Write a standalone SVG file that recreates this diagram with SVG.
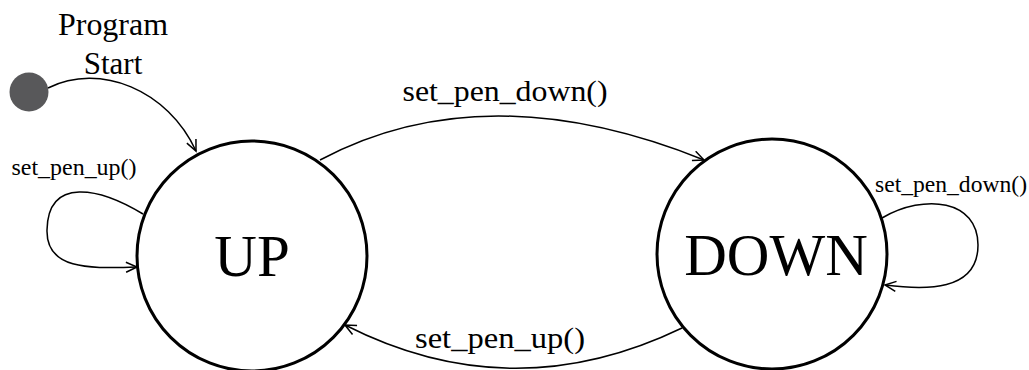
<svg xmlns="http://www.w3.org/2000/svg" width="1029" height="370" viewBox="0 0 1029 370">
<style>
.state{fill:#fff;stroke:#000;stroke-width:3}
.edge{fill:none;stroke:#000;stroke-width:1.5}
.big{font-family:"Liberation Serif","Times New Roman",serif;font-size:59px;fill:#000}
.lbl{font-family:"Liberation Serif","Times New Roman",serif;fill:#000}
</style>
<defs>
<marker id="arr" markerUnits="userSpaceOnUse" markerWidth="14" markerHeight="12" refX="12" refY="6" orient="auto">
<path d="M1,1 L12,6 L1,11" fill="none" stroke="#000" stroke-width="1.5"/>
</marker>
</defs>
<rect width="1029" height="370" fill="#fff"/>
<g id="connectors">
<path class="edge" d="M48 88 C100 62, 168 90, 196 151" marker-end="url(#arr)"/>
<path class="edge" d="M320 160 Q485 72 704 160" marker-end="url(#arr)"/>
<path class="edge" d="M682 328 Q512 410 345 325" marker-end="url(#arr)"/>
<path class="edge" d="M143 214 C100 188, 48 176, 47 230 C46 272, 95 268, 137 267" marker-end="url(#arr)"/>
<path class="edge" d="M882 218 C925 193, 978 200, 978 245 C978 292, 925 290, 885 285" marker-end="url(#arr)"/>
</g>
<g id="start">
<circle cx="29" cy="92" r="19.5" fill="#58585a"/>
<text class="lbl" x="113" y="35" font-size="31" text-anchor="middle" textLength="110" lengthAdjust="spacingAndGlyphs">Program</text>
<text class="lbl" x="113" y="74" font-size="31" text-anchor="middle">Start</text>
</g>
<g id="up">
<circle class="state" cx="252" cy="256" r="115"/>
<text class="big" x="252" y="276" text-anchor="middle">UP</text>
</g>
<g id="down">
<circle class="state" cx="772" cy="254" r="115"/>
<text class="big" x="776" y="275" text-anchor="middle">DOWN</text>
</g>
<g id="labels">
<text class="lbl" x="505" y="101" font-size="30" text-anchor="middle" textLength="205" lengthAdjust="spacingAndGlyphs">set_pen_down()</text>
<text class="lbl" x="500" y="348" font-size="30" text-anchor="middle" textLength="170" lengthAdjust="spacingAndGlyphs">set_pen_up()</text>
<text class="lbl" x="74" y="175" font-size="23" text-anchor="middle" textLength="125" lengthAdjust="spacingAndGlyphs">set_pen_up()</text>
<text class="lbl" x="951" y="192" font-size="23" text-anchor="middle" textLength="152" lengthAdjust="spacingAndGlyphs">set_pen_down()</text>
</g>
</svg>
